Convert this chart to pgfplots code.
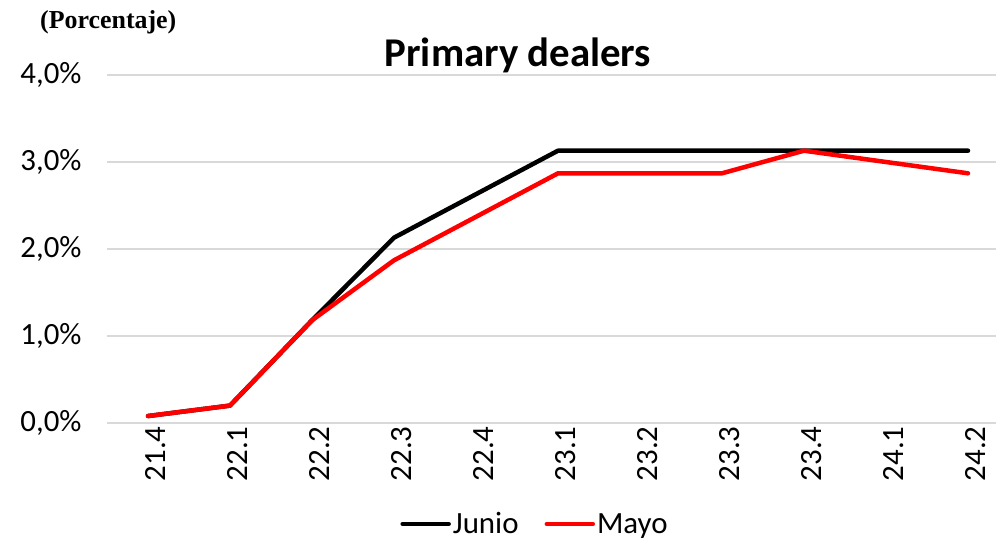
\documentclass[border=0pt]{standalone}
\usepackage{fontspec}
\usepackage{pgfplots}
\pgfplotsset{compat=1.18}
\newfontfamily\carlito{Carlito}
\newfontfamily\lserif{Liberation Serif}
\definecolor{gridgray}{RGB}{217,217,217}
\begin{document}
\begin{tikzpicture}
\path[use as bounding box] (0bp,0bp) rectangle (996bp,540bp);
\begin{axis}[
  at={(107bp,117bp)}, anchor=south west,
  scale only axis, width=902bp, height=348bp,
  xmin=-0.5, xmax=10.5, ymin=0, ymax=4,
  axis line style={draw=none},
  ymajorgrids, grid style={gridgray, line width=1.5bp},
  major tick length=0pt,
  ytick={0,1,2,3,4},
  yticklabels={{0,0\%},{1,0\%},{2,0\%},{3,0\%},{4,0\%}},
  xtick={0,1,2,3,4,5,6,7,8,9,10},
  xticklabels={21.4,22.1,22.2,22.3,22.4,23.1,23.2,23.3,23.4,24.1,24.2},
  tick label style={font=\carlito\fontsize{31}{33}\selectfont, text=black},
  x tick label style={rotate=90, anchor=east, yshift=-8bp},
  y tick label style={xshift=-22bp},
  legend columns=2,
  legend style={at={(0.4745,-0.29)}, anchor=center, draw=none, fill=none,
    font=\carlito\fontsize{31}{33}\selectfont,
    /tikz/every even column/.append style={column sep=24bp}},
  legend image code/.code={\draw[#1] (0bp,0bp) -- (46bp,0bp);},
  every axis plot/.append style={line width=4.5bp, line join=round, line cap=round},
]
\addplot[black] coordinates {(0,0.08) (1,0.2) (2,1.18) (3,2.13) (4,2.63) (5,3.13) (6,3.13) (7,3.13) (8,3.13) (9,3.13) (10,3.13)};
\addlegendentry{Junio}
\addplot[red] coordinates {(0,0.08) (1,0.2) (2,1.18) (3,1.87) (4,2.37) (5,2.87) (6,2.87) (7,2.87) (8,3.13) (9,3.0) (10,2.87)};
\addlegendentry{Mayo}
\end{axis}
\node[anchor=base, font=\carlito\bfseries\fontsize{41}{44}\selectfont] at (518bp,473bp) {Primary dealers};
\node[anchor=base west, inner sep=0pt, font=\lserif\bfseries\fontsize{26}{28}\selectfont] at (40bp,511bp) {(Porcentaje)};
\end{tikzpicture}
\end{document}
